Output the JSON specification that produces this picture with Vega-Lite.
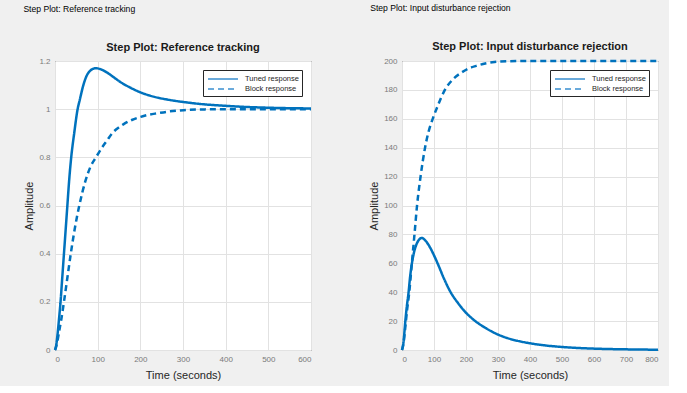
{
  "$schema": "https://vega.github.io/schema/vega-lite/v6.json",
  "background": "#f0f0f0",
  "padding": {"left": 23, "top": 3, "right": 5, "bottom": 5},
  "config": {
    "font": "Liberation Sans",
    "view": {"fill": "white", "stroke": "#262626", "strokeWidth": 1},
    "axis": {
      "grid": true, "gridColor": "#e2e2e2", "domain": false, "ticks": false,
      "labelColor": "#7a7a7a", "labelFontSize": 8, "labelFont": "Liberation Sans",
      "titleFont": "Liberation Sans", "titleFontSize": 11, "titleFontWeight": "normal", "titleColor": "#262626"
    },
    "axisX": {"labelPadding": 5, "titlePadding": 6},
    "axisY": {"labelPadding": 5, "titlePadding": 4},
    "legend": {
      "orient": "top-right", "offset": 9, "padding": 3, "rowPadding": 0,
      "fillColor": "white", "strokeColor": "#262626",
      "symbolType": "M-3,0H3", "symbolSize": 100, "symbolStrokeWidth": 1.5, "symbolOffset": 11, "labelOffset": 16,
      "symbolStrokeColor": "#3a8fd0", "labelFontSize": 7.5, "labelColor": "#262626",
      "labelFont": "Liberation Sans", "title": null
    }
  },
  "datasets": {
    "ref": [
      {"series": "Tuned response", "t": 0, "y": 0},
      {"series": "Tuned response", "t": 2, "y": 0.01},
      {"series": "Tuned response", "t": 5, "y": 0.05},
      {"series": "Tuned response", "t": 10, "y": 0.14},
      {"series": "Tuned response", "t": 13, "y": 0.2},
      {"series": "Tuned response", "t": 17, "y": 0.3},
      {"series": "Tuned response", "t": 21, "y": 0.4},
      {"series": "Tuned response", "t": 25, "y": 0.5},
      {"series": "Tuned response", "t": 29, "y": 0.6},
      {"series": "Tuned response", "t": 33, "y": 0.7},
      {"series": "Tuned response", "t": 38, "y": 0.8},
      {"series": "Tuned response", "t": 45, "y": 0.9},
      {"series": "Tuned response", "t": 53, "y": 1.0},
      {"series": "Tuned response", "t": 58, "y": 1.038},
      {"series": "Tuned response", "t": 66, "y": 1.097},
      {"series": "Tuned response", "t": 74, "y": 1.138},
      {"series": "Tuned response", "t": 82, "y": 1.159},
      {"series": "Tuned response", "t": 90, "y": 1.168},
      {"series": "Tuned response", "t": 96, "y": 1.17},
      {"series": "Tuned response", "t": 105, "y": 1.167},
      {"series": "Tuned response", "t": 113, "y": 1.161},
      {"series": "Tuned response", "t": 122, "y": 1.152},
      {"series": "Tuned response", "t": 135, "y": 1.136},
      {"series": "Tuned response", "t": 153, "y": 1.113},
      {"series": "Tuned response", "t": 177, "y": 1.089},
      {"series": "Tuned response", "t": 200, "y": 1.07},
      {"series": "Tuned response", "t": 231, "y": 1.052},
      {"series": "Tuned response", "t": 263, "y": 1.04},
      {"series": "Tuned response", "t": 300, "y": 1.03},
      {"series": "Tuned response", "t": 350, "y": 1.02},
      {"series": "Tuned response", "t": 390, "y": 1.015},
      {"series": "Tuned response", "t": 450, "y": 1.009},
      {"series": "Tuned response", "t": 500, "y": 1.006},
      {"series": "Tuned response", "t": 550, "y": 1.004},
      {"series": "Tuned response", "t": 600, "y": 1.003},
      {"series": "Block response", "t": 0, "y": 0},
      {"series": "Block response", "t": 5, "y": 0.03},
      {"series": "Block response", "t": 10, "y": 0.08},
      {"series": "Block response", "t": 15, "y": 0.13},
      {"series": "Block response", "t": 21, "y": 0.2},
      {"series": "Block response", "t": 29, "y": 0.3},
      {"series": "Block response", "t": 37, "y": 0.4},
      {"series": "Block response", "t": 46, "y": 0.5},
      {"series": "Block response", "t": 57, "y": 0.6},
      {"series": "Block response", "t": 71, "y": 0.7},
      {"series": "Block response", "t": 83, "y": 0.76},
      {"series": "Block response", "t": 96, "y": 0.8},
      {"series": "Block response", "t": 110, "y": 0.84},
      {"series": "Block response", "t": 122, "y": 0.87},
      {"series": "Block response", "t": 134, "y": 0.9},
      {"series": "Block response", "t": 150, "y": 0.925},
      {"series": "Block response", "t": 161, "y": 0.938},
      {"series": "Block response", "t": 180, "y": 0.955},
      {"series": "Block response", "t": 201, "y": 0.968},
      {"series": "Block response", "t": 220, "y": 0.977},
      {"series": "Block response", "t": 240, "y": 0.983},
      {"series": "Block response", "t": 270, "y": 0.991},
      {"series": "Block response", "t": 301, "y": 0.996},
      {"series": "Block response", "t": 350, "y": 0.999},
      {"series": "Block response", "t": 400, "y": 1.0},
      {"series": "Block response", "t": 500, "y": 1.0},
      {"series": "Block response", "t": 600, "y": 1.0}
    ],
    "dist": [
      {"series": "Tuned response", "t": 0, "y": 0},
      {"series": "Tuned response", "t": 5, "y": 6},
      {"series": "Tuned response", "t": 10, "y": 19},
      {"series": "Tuned response", "t": 15, "y": 30},
      {"series": "Tuned response", "t": 20.6, "y": 40},
      {"series": "Tuned response", "t": 25, "y": 50},
      {"series": "Tuned response", "t": 31, "y": 60},
      {"series": "Tuned response", "t": 38, "y": 68},
      {"series": "Tuned response", "t": 45, "y": 73},
      {"series": "Tuned response", "t": 52, "y": 76},
      {"series": "Tuned response", "t": 62, "y": 77.5},
      {"series": "Tuned response", "t": 72, "y": 76},
      {"series": "Tuned response", "t": 85, "y": 72},
      {"series": "Tuned response", "t": 100, "y": 65.5},
      {"series": "Tuned response", "t": 115, "y": 58},
      {"series": "Tuned response", "t": 130, "y": 50},
      {"series": "Tuned response", "t": 152, "y": 40},
      {"series": "Tuned response", "t": 175, "y": 32.5},
      {"series": "Tuned response", "t": 197, "y": 26.5},
      {"series": "Tuned response", "t": 215, "y": 22.6},
      {"series": "Tuned response", "t": 237, "y": 18.7},
      {"series": "Tuned response", "t": 260, "y": 15.4},
      {"series": "Tuned response", "t": 293, "y": 11.4},
      {"series": "Tuned response", "t": 330, "y": 8.2},
      {"series": "Tuned response", "t": 360, "y": 6.4},
      {"series": "Tuned response", "t": 394, "y": 4.9},
      {"series": "Tuned response", "t": 450, "y": 3.1},
      {"series": "Tuned response", "t": 493, "y": 2.2},
      {"series": "Tuned response", "t": 550, "y": 1.4},
      {"series": "Tuned response", "t": 600, "y": 0.95},
      {"series": "Tuned response", "t": 700, "y": 0.45},
      {"series": "Tuned response", "t": 800, "y": 0.2},
      {"series": "Block response", "t": 0, "y": 0},
      {"series": "Block response", "t": 5, "y": 5},
      {"series": "Block response", "t": 10, "y": 15},
      {"series": "Block response", "t": 16, "y": 28},
      {"series": "Block response", "t": 22.7, "y": 40},
      {"series": "Block response", "t": 30, "y": 58},
      {"series": "Block response", "t": 39, "y": 80},
      {"series": "Block response", "t": 47, "y": 100},
      {"series": "Block response", "t": 58, "y": 120},
      {"series": "Block response", "t": 72, "y": 140},
      {"series": "Block response", "t": 83, "y": 151},
      {"series": "Block response", "t": 96, "y": 160},
      {"series": "Block response", "t": 110, "y": 168},
      {"series": "Block response", "t": 134, "y": 180},
      {"series": "Block response", "t": 160, "y": 187.5},
      {"series": "Block response", "t": 186, "y": 192},
      {"series": "Block response", "t": 210, "y": 195},
      {"series": "Block response", "t": 232, "y": 196.6},
      {"series": "Block response", "t": 260, "y": 198.3},
      {"series": "Block response", "t": 289, "y": 199.3},
      {"series": "Block response", "t": 330, "y": 199.8},
      {"series": "Block response", "t": 400, "y": 200},
      {"series": "Block response", "t": 600, "y": 200},
      {"series": "Block response", "t": 800, "y": 200}
    ]
  },
  "spacing": 51,
  "hconcat": [
    {
      "title": {"text": "Step Plot: Reference tracking", "anchor": "start", "fontSize": 8.6, "fontWeight": "normal", "color": "#000000", "offset": 28, "font": "Liberation Sans"},
      "resolve": {"scale": {"strokeDash": "independent"}, "legend": {"strokeDash": "independent"}},
      "vconcat": [
        {
          "width": 256, "height": 289,
          "title": {"text": "Step Plot: Reference tracking", "fontSize": 11, "fontWeight": "bold", "color": "#1a1a1a", "offset": 4},
          "data": {"name": "ref"},
          "mark": {"type": "line", "color": "#0072BD", "strokeWidth": 2.5, "interpolate": "monotone"},
          "encoding": {
            "x": {"field": "t", "type": "quantitative", "title": "Time (seconds)", "scale": {"domain": [0, 600], "nice": false}, "axis": {"values": [0, 100, 200, 300, 400, 500, 600]}},
            "y": {"field": "y", "type": "quantitative", "title": "Amplitude", "scale": {"domain": [0, 1.2], "nice": false}, "axis": {"values": [0, 0.2, 0.4, 0.6, 0.8, 1, 1.2], "format": "~g"}},
            "strokeDash": {"field": "series", "type": "nominal", "scale": {"domain": ["Tuned response", "Block response"], "range": [[1, 0], [6, 4]]}, "legend": {}}
          }
        }
      ]
    },
    {
      "title": {"text": "Step Plot: Input disturbance rejection", "anchor": "start", "fontSize": 8.6, "fontWeight": "normal", "color": "#000000", "offset": 28, "font": "Liberation Sans", "dx": 2},
      "resolve": {"scale": {"strokeDash": "independent"}, "legend": {"strokeDash": "independent"}},
      "vconcat": [
        {
          "width": 256, "height": 289,
          "title": {"text": "Step Plot: Input disturbance rejection", "fontSize": 11, "fontWeight": "bold", "color": "#1a1a1a", "offset": 4},
          "data": {"name": "dist"},
          "mark": {"type": "line", "color": "#0072BD", "strokeWidth": 2.5, "interpolate": "monotone"},
          "encoding": {
            "x": {"field": "t", "type": "quantitative", "title": "Time (seconds)", "scale": {"domain": [0, 800], "nice": false}, "axis": {"values": [0, 100, 200, 300, 400, 500, 600, 700, 800]}},
            "y": {"field": "y", "type": "quantitative", "title": "Amplitude", "scale": {"domain": [0, 200], "nice": false}, "axis": {"values": [0, 20, 40, 60, 80, 100, 120, 140, 160, 180, 200]}},
            "strokeDash": {"field": "series", "type": "nominal", "scale": {"domain": ["Tuned response", "Block response"], "range": [[1, 0], [6, 4]]}, "legend": {}}
          }
        }
      ]
    }
  ],
  "resolve": {"scale": {"strokeDash": "independent"}, "legend": {"strokeDash": "independent"}}
}
